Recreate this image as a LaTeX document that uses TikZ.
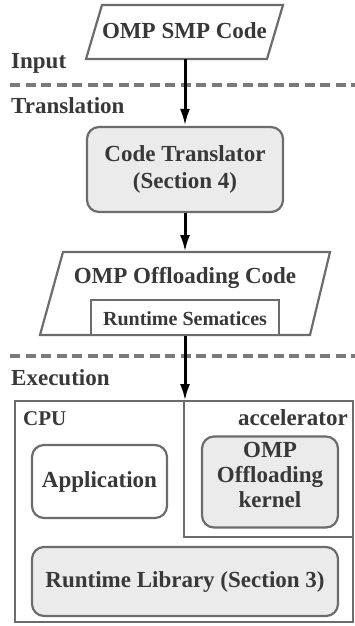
\documentclass[tikz,border=0pt]{standalone}
\usepackage{fontspec}
\setmainfont{Liberation Serif}
\usetikzlibrary{arrows.meta}

\definecolor{txt}{HTML}{383838}
\definecolor{edge}{HTML}{6C6C6C}
\definecolor{boxfill}{HTML}{EBEBEB}
\definecolor{sep}{HTML}{7A7A7A}

\begin{document}
\begin{tikzpicture}[x=1pt,y=-1pt,
  big/.style={font=\fontsize{23}{27}\selectfont\bfseries, text=txt, inner sep=0pt},
  small/.style={font=\fontsize{20}{24}\selectfont\bfseries, text=txt, inner sep=0pt},
  outline/.style={draw=edge, line width=2.2pt},
  rbox/.style={outline, rounded corners=12pt, inner sep=0pt, align=center,
    font=\fontsize{23}{27}\selectfont\bfseries, text=txt},
  flow/.style={line width=3pt, -{Latex[length=17pt,width=10pt]}},
  sepline/.style={draw=sep, line width=4.5pt, dash pattern=on 10pt off 5.5pt},
  ]
\useasboundingbox (0,0) rectangle (355,626);

% stage separators
\draw[sepline] (10,85) -- (355,85);
\draw[sepline] (10,356) -- (355,356);

% stage names
\node[big, anchor=base west] (lin) at (11,68) {Input};
\node[big, anchor=base west] (ltr) at (11,113) {Translation};
\node[big, anchor=base west] (lex) at (11,385) {Execution};

% input code (parallelogram)
\draw[outline, fill=white] (102,5) -- (283,5) -- (267,59) -- (86,59) -- cycle;
\node[big, anchor=base] (smp) at (184.5,38) {OMP SMP Code};
\coordinate (smpB) at (185,59);

% translator
\node[rbox, fill=boxfill, minimum width=196pt, minimum height=85pt] (trans) at (185,169.5)
  {Code Translator\\(Section 4)};

% offloading code (parallelogram with inner box)
\draw[outline, fill=white] (63,252) -- (330,252) -- (310,335) -- (40,335) -- cycle;
\coordinate (offT) at (185,252);
\node[big, anchor=base] (off) at (185,283) {OMP Offloading Code};
\node[outline, fill=white, minimum width=188pt, minimum height=35pt, inner sep=0pt]
  (sem) at (185,317.5) {};
\node[small, anchor=base] (semtxt) at (185,325) {Runtime Sematices};

% execution platform
\draw[outline] (15,401) rectangle (353,622);
\draw[outline] (184,401) rectangle (353,537);
\coordinate (cpuT) at (185,401);
\node[big, font=\fontsize{21}{25}\selectfont\bfseries, anchor=base west] (cpu) at (23,425) {CPU};
\node[big, anchor=base east] (acc) at (348,425) {accelerator};

\node[rbox, fill=white, minimum width=135pt, minimum height=73pt] (app) at (99.5,481.5)
  {Application};
\node[rbox, fill=boxfill, minimum width=136pt, minimum height=91pt] (kern) at (270,482) {};
\node[big, align=center, font=\fontsize{23}{25}\selectfont\bfseries] (kerntxt) at (270,475)
  {OMP\\Offloading\\kernel};
\node[rbox, fill=boxfill, minimum width=306pt, minimum height=69pt] (rtl) at (185,581.5)
  {Runtime Library (Section 3)};

% flow arrows
\draw[flow] (smpB) -- (trans.north);
\draw[flow] (trans.south) -- (offT);
\draw[flow] (sem.south) -- (cpuT);
\end{tikzpicture}
\end{document}
